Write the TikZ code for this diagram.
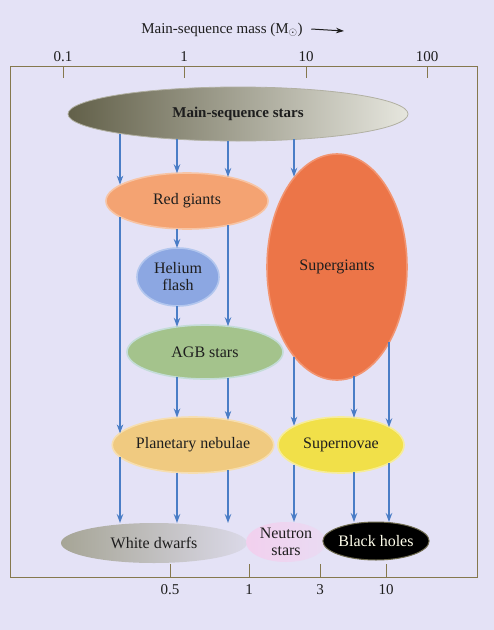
\documentclass[tikz,border=0pt]{standalone}
\usepackage{fontspec}
\setmainfont{Liberation Serif}
\usepackage{tikz}
\usetikzlibrary{arrows.meta, shapes.geometric}

\definecolor{bgcol}{HTML}{E4E2F6}
\definecolor{framecol}{HTML}{85784E}
\definecolor{arrcol}{HTML}{4A7DC6}
\definecolor{inkcol}{HTML}{1E1E1E}
\definecolor{msdark}{HTML}{626049}
\definecolor{mslight}{HTML}{E6E6DE}
\definecolor{rgfill}{HTML}{F4A372}
\definecolor{rgedge}{HTML}{F7C4A4}
\definecolor{sgfill}{HTML}{EC7548}
\definecolor{sgedge}{HTML}{F29470}
\definecolor{hffill}{HTML}{8CA7E2}
\definecolor{hfedge}{HTML}{B2C6EE}
\definecolor{agbfill}{HTML}{A4C38C}
\definecolor{agbedge}{HTML}{C4DCD8}
\definecolor{pnfill}{HTML}{F0CA80}
\definecolor{pnedge}{HTML}{F6DEB0}
\definecolor{snfill}{HTML}{F1E049}
\definecolor{snedge}{HTML}{F6EC9A}
\definecolor{wdgrey}{HTML}{A6A596}
\definecolor{nsfill}{HTML}{F2D0EE}
\definecolor{bhedge}{HTML}{6E6A4E}

\begin{document}
\begin{tikzpicture}[x=1pt, y=-1pt,
    font=\fontsize{16}{17}\selectfont,
    stage/.style={ellipse, inner sep=0pt, outer sep=0pt, align=center,
                  text=inkcol, line width=1.6pt},
    arr/.style={-{Stealth[length=9pt, width=6.5pt]}, draw=arrcol, line width=1.1pt},
    axis/.style={draw=framecol, line width=0.9pt},
    lab/.style={font=\fontsize{15}{17}\selectfont, text=inkcol},
  ]
  \useasboundingbox (0,0) rectangle (494,630);
  \fill[bgcol] (0,0) rectangle (494,630);
  %% Axis frame, ticks and labels
  \node[lab] (ttl) at (222,30) {Main-sequence mass (M$_\odot$)};
  \coordinate (ttlend) at (344,31);
  \draw[-{Stealth[length=8pt, width=5.5pt]}, inkcol, line width=1pt]
    ([xshift=5pt, yshift=1pt]ttl.east) -- (ttlend);
  \draw[axis] (10,66) rectangle (477,577);
  \foreach \x/\lbl/\nm in {63/0.1/ta, 184/1/tb, 306/10/tc, 427/100/td}{
    \draw[axis] (\x,66) -- (\x,78);
    \node[lab] (\nm) at (\x,57) {\lbl};
  }
  \foreach \x/\lbl/\nm in {170/0.5/ba, 249/1/bb, 320/3/bc, 386/10/bd}{
    \draw[axis] (\x,577) -- (\x,564);
    \node[lab] (\nm) at (\x,590) {\lbl};
  }
  %% Columns of the arrows
  \coordinate (c1) at (120,0);
  \coordinate (c2) at (177,0);
  \coordinate (c3) at (228,0);
  \coordinate (c4) at (294,0);
  \coordinate (c5) at (354,0);
  \coordinate (c6) at (389,0);
  %% Stages
  \node[stage, left color=msdark, right color=mslight, draw=mslight!60!msdark,
        line width=0.8pt, minimum width=340pt, minimum height=54pt,
        font=\fontsize{15}{17}\selectfont\bfseries] (ms) at (238,114) {Main-sequence stars};
  \node[stage, fill=rgfill, draw=rgedge, minimum width=162pt, minimum height=56pt]
    (rg) at (187,201) {Red giants};
  \node[stage, fill=sgfill, draw=sgedge, minimum width=140pt, minimum height=226pt]
    (sg) at (337,267) {Supergiants};
  \node[stage, fill=hffill, draw=hfedge, minimum width=82pt, minimum height=58pt]
    (hf) at (178,277) {Helium\\flash};
  \node[stage, fill=agbfill, draw=agbedge, minimum width=156pt, minimum height=54pt]
    (agb) at (205,352) {AGB stars};
  \node[stage, fill=pnfill, draw=pnedge, minimum width=156pt, minimum height=56pt]
    (pn) at (193,445) {Planetary nebulae};
  \node[stage, fill=snfill, draw=snedge, minimum width=126pt, minimum height=56pt]
    (sn) at (341,445) {Supernovae};
  \node[stage, left color=wdgrey, right color=bgcol!85!wdgrey,
        minimum width=186pt, minimum height=40pt] (wd) at (154,543) {White dwarfs};
  \node[stage, left color=nsfill, right color=bgcol!60!nsfill,
        minimum width=80pt, minimum height=40pt] (ns) at (286,542) {Neutron\\stars};
  \node[stage, fill=black, draw=bhedge, line width=1pt, text=white!92!yellow,
        minimum width=104pt, minimum height=38pt] (bh) at (376,541) {Black holes};
  %% Arrows
  \draw[arr] (c1 |- ms.190) -- (c1 |- rg.166);
  \draw[arr] (c2 |- ms.202) -- (c2 |- rg.110);
  \draw[arr] (c3 |- ms.250) -- (c3 |- rg.30);
  \draw[arr] (c4 |- ms.-24) -- (c4 |- sg.115);
  \draw[arr] (c1 |- rg.194) -- (c1 |- pn.171);
  \draw[arr] (c2 |- rg.250) -- (c2 |- hf.north);
  \draw[arr] (c3 |- rg.-30) -- (c3 |- agb.48);
  \draw[arr] (c2 |- hf.south) -- (c2 |- agb.138);
  \draw[arr] (c2 |- agb.222) -- (c2 |- pn.119);
  \draw[arr] (c3 |- agb.-48) -- (c3 |- pn.35);
  \draw[arr] (c4 |- sg.245) -- (c4 |- sn.157);
  \draw[arr] (c5 |- sg.-81) -- (c5 |- sn.63);
  \draw[arr] (c6 |- sg.-55) -- (c6 |- sn.20);
  \draw[arr] (c1 |- pn.189) -- (c1 |- wd.north);
  \draw[arr] (c2 |- pn.241) -- (c2 |- wd.north);
  \draw[arr] (c3 |- pn.-35) -- (c3 |- wd.north);
  \draw[arr] (c4 |- sn.204) -- (c4 |- ns.north);
  \draw[arr] (c5 |- sn.-63) -- (c5 |- bh.north);
  \draw[arr] (c6 |- sn.-20) -- (c6 |- bh.north);
\end{tikzpicture}
\end{document}
